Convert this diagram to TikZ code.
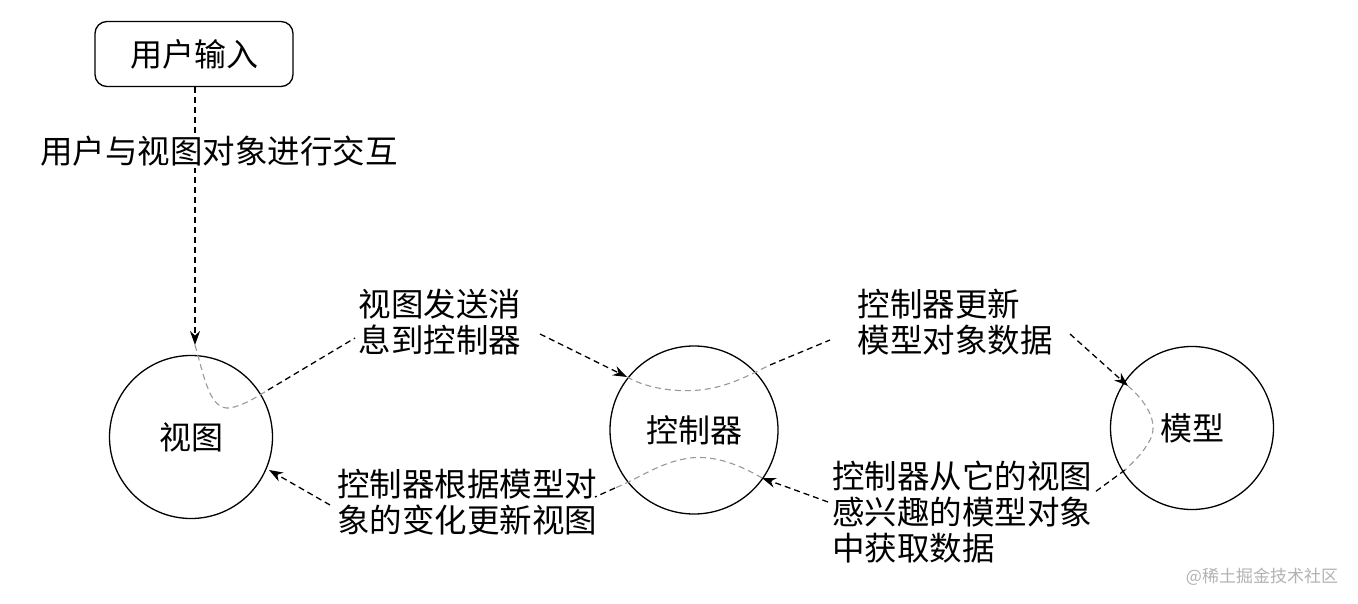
\documentclass[tikz,border=0pt]{standalone}
\usepackage{fontspec}
\setmainfont{Noto Sans CJK SC}
\usetikzlibrary{arrows.meta}
\begin{document}
\begin{tikzpicture}[x=1pt,y=-1pt,
  lbl/.style={font=\fontsize{32.5}{36}\selectfont, align=left, inner sep=2pt},
  circ/.style={draw, circle, line width=1.3pt, minimum size=163pt, font=\fontsize{32}{36}\selectfont},
  dl/.style={line width=1.3pt, dash pattern=on 6pt off 4pt},
  gl/.style={line width=1.1pt, draw=gray!80, dash pattern=on 6pt off 4pt},
  arr/.style={-{Stealth[length=14pt,width=10pt]}}]
\useasboundingbox (0,0) rectangle (1358,604);
\fill[white] (0,0) rectangle (1358,604);
\node[draw, rounded corners=12pt, line width=1.3pt, minimum width=198pt, minimum height=65pt, font=\fontsize{32}{36}\selectfont] (in) at (194,54) {用户输入};
\node[circ] (v) at (191,437) {视图};
\node[circ, minimum size=168pt] (c) at (694,430) {控制器};
\node[circ] (m) at (1192,428) {模型};
\coordinate (a1) at (195,345);
\draw[dl, arr] (in.south -| a1) -- (a1);
\node[lbl, fill=white] (t0) at (219,151) {用户与视图对象进行交互};
% labels
\node[lbl] (t1) at (440,322) {视图发送消\\息到控制器};
\node[lbl] (t2) at (955,322) {控制器更新\\模型对象数据};
\node[lbl, align=left] (t3) at (962,512) {控制器从它的视图\\感兴趣的模型对象\\中获取数据};
\node[lbl] (t4) at (467,502) {控制器根据模型对\\象的变化更新视图};
% view -> controller
\coordinate (v1) at (268,390);
\draw[gl] (a1) .. controls (205,380) and (210,410) .. (230,408) .. controls (245,405) and (258,396) .. (v1);
\draw[dl] (v1) -- (355,338);
\coordinate (c1) at (627,377);
\draw[dl, arr] (540,334) -- (c1);
\coordinate (c2) at (770,365);
\draw[gl] (c1) .. controls (650,390) and (680,392) .. (700,390) .. controls (730,387) and (755,372) .. (c2);
\draw[dl] (c2) -- (830,340);
\coordinate (m1) at (1128,386);
\draw[dl, arr] (1070,334) -- (m1);
\coordinate (m2) at (1125,470);
\draw[gl] (m1) .. controls (1150,405) and (1158,425) .. (1150,440) .. controls (1142,455) and (1132,463) .. (m2);
\draw[dl] (m2) -- (1095,492);
% model -> controller -> view
\coordinate (c3) at (762,478);
\draw[dl, arr] (828,502) -- (c3);
\coordinate (c4) at (615,488);
\draw[gl] (c3) .. controls (740,465) and (715,455) .. (690,458) .. controls (660,462) and (640,478) .. (c4);
\draw[dl] (c4) -- (595,497);
\coordinate (v2) at (269,470);
\draw[dl, arr] (330,505) -- (v2);
\node[font=\fontsize{17}{20}\selectfont, text=gray!60] (wm) at (1262,577) {@稀土掘金技术社区};
\end{tikzpicture}
\end{document}
